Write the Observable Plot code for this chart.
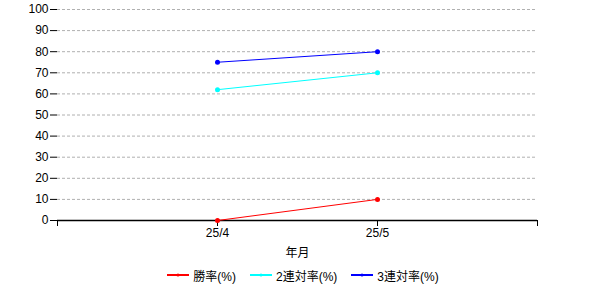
<!DOCTYPE html>
<html>
<head>
<meta charset="utf-8">
<script src="https://cdn.jsdelivr.net/npm/d3@7"></script>
<script src="https://cdn.jsdelivr.net/npm/@observablehq/plot@0.6"></script>
<style>
  body { margin: 0; background: #fff; font-family: "Liberation Sans", Arial, "Noto Sans CJK JP", sans-serif; }
  #legend { display: flex; justify-content: center; align-items: center; height: 26px; font-size: 12px; color: #000; padding-left: 6px; }
  .item { display: flex; align-items: center; margin: 0 7px; }
  .item svg { margin-right: 4px; }
</style>
</head>
<body>
<div id="chart"></div>
<div id="legend"></div>
<script>
const months = ["25/4", "25/5"];
const seriesNames = ["勝率(%)", "2連対率(%)", "3連対率(%)"];
const seriesColors = ["#ff0000", "#00ffff", "#0000ff"];
const winRate = [0, 10];
const ren2Rate = [62, 70];
const ren3Rate = [75, 80];
const yTicks = [0, 10, 20, 30, 40, 50, 60, 70, 80, 90, 100];

const seriesValues = [winRate, ren2Rate, ren3Rate];
const data = [];
seriesValues.forEach((vals, s) => {
  vals.forEach((v, i) => data.push({series: seriesNames[s], xi: i + 1, value: v}));
});

const plot = Plot.plot({
  width: 600,
  height: 262,
  marginLeft: 57,
  marginRight: 63,
  marginTop: 9,
  marginBottom: 42,
  style: {fontSize: "12px", fontFamily: "'Liberation Sans', Arial, 'Noto Sans CJK JP', sans-serif", color: "#000", background: "#fff"},
  x: {domain: [0, months.length + 1], axis: null},
  y: {domain: [0, 100], axis: null},
  color: {domain: seriesNames, range: seriesColors},
  marks: [
    Plot.ruleY(yTicks.filter(d => d > 0), {stroke: "#b0b0b0", strokeDasharray: "3,2", strokeWidth: 1}),
    Plot.axisY({ticks: yTicks, tickSize: 7, tickPadding: 2, label: null, stroke: "#000", strokeOpacity: 1, fontSize: 12}),
    Plot.axisX({ticks: d3.range(0, months.length + 2), tickFormat: d => (d >= 1 && d <= months.length) ? months[d - 1] : "", tickSize: 6, tickPadding: 2, label: "年月", labelAnchor: "center", labelArrow: "none", labelOffset: 36, strokeOpacity: 1, fontSize: 12}),
    Plot.ruleY([0], {stroke: "#000", strokeWidth: 1.5}),
    Plot.line(data, {x: "xi", y: "value", z: "series", stroke: "series", strokeWidth: 1}),
    Plot.dot(data, {x: "xi", y: "value", fill: "series", r: 2.5})
  ]
});
document.getElementById("chart").appendChild(plot);

const legend = document.getElementById("legend");
seriesNames.forEach((name, i) => {
  const item = document.createElement("div");
  item.className = "item";
  item.innerHTML = `<svg width="22" height="8"><line x1="0" y1="4" x2="22" y2="4" stroke="${seriesColors[i]}" stroke-width="2"/><circle cx="11" cy="4" r="1.5" fill="${seriesColors[i]}"/></svg><span>${name}</span>`;
  legend.appendChild(item);
});
</script>
</body>
</html>
